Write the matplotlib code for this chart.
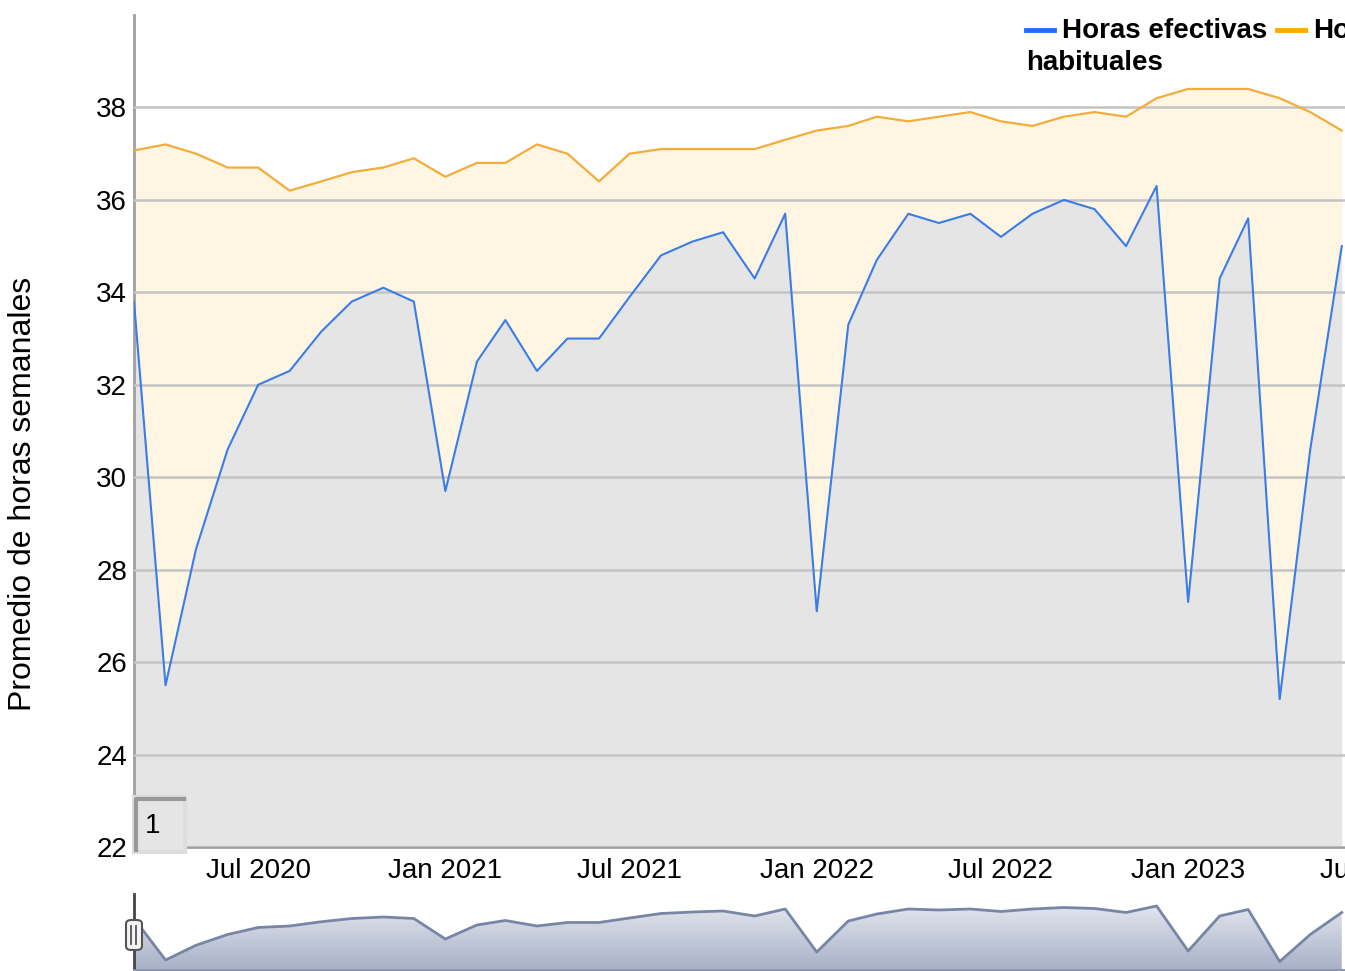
import numpy as np
import pandas as pd
import matplotlib
matplotlib.use('Agg')
import matplotlib.pyplot as plt
import matplotlib.dates as mdates
from matplotlib.patches import Rectangle, FancyBboxPatch
from matplotlib.lines import Line2D

plt.rcParams['font.family'] = ['Liberation Sans', 'DejaVu Sans']

# monthly data, Mar 2020 - Jun 2023
months = pd.date_range('2020-03-01', '2023-06-01', freq='MS')
efectivas = [33.8, 25.5, 28.45, 30.6, 32.0, 32.3, 33.15, 33.8, 34.1, 33.8,
             29.7, 32.5, 33.4, 32.3, 33.0, 33.0, 33.9, 34.8, 35.1, 35.3,
             34.3, 35.7, 27.1, 33.3, 34.7, 35.7, 35.5, 35.7, 35.2, 35.7,
             36.0, 35.8, 35.0, 36.3, 27.3, 34.3, 35.6, 25.2, 30.6, 35.0]
habituales = [37.07, 37.2, 37.0, 36.7, 36.7, 36.2, 36.4, 36.6, 36.7, 36.9,
              36.5, 36.8, 36.8, 37.2, 37.0, 36.4, 37.0, 37.1, 37.1, 37.1,
              37.1, 37.3, 37.5, 37.6, 37.8, 37.7, 37.8, 37.9, 37.7, 37.6,
              37.8, 37.9, 37.8, 38.2, 38.4, 38.4, 38.4, 38.2, 37.9, 37.5]
yticks = [22, 24, 26, 28, 30, 32, 34, 36, 38]

W, H = 1345, 971
fs = 20
fig = plt.figure(figsize=(W / 100, H / 100), dpi=100)

x0 = pd.Timestamp('2020-03-01')
x1 = pd.Timestamp('2023-09-01')
ax_w = (x1 - x0).days * 1.0175

# main chart
ax = fig.add_axes([134 / W, (H - 847) / H, ax_w / W, 832 / H])
ax.set_xlim(x0, x1)
ax.set_ylim(22, 40)
ax.fill_between(months, 22, efectivas, color='#e5e5e5', lw=0, zorder=0.5)
ax.fill_between(months, efectivas, habituales, color='#ffa500', alpha=0.11, lw=0, zorder=2)
ax.plot(months, habituales, color='#f2ad3a', lw=1.6, zorder=3)
ax.plot(months, efectivas, color='#3a7ce8', lw=1.5, zorder=3)

ax.set_yticks(yticks)
ax.yaxis.grid(True, color='#c4c4c4', lw=1.8, zorder=1)
ax.set_axisbelow(False)
ax.xaxis.set_major_locator(mdates.MonthLocator(bymonth=[1, 7]))
ax.xaxis.set_major_formatter(mdates.DateFormatter('%b %Y'))
ax.tick_params(axis='both', length=0, labelsize=fs, pad=5)
ax.tick_params(axis='x', pad=8)
for s in ['top', 'right']:
    ax.spines[s].set_visible(False)
ax.spines['left'].set_color('#a0a0a0')
ax.spines['left'].set_linewidth(2)
ax.spines['bottom'].set_color('#a0a0a0')
ax.spines['bottom'].set_linewidth(2)
ax.set_ylabel('Promedio de horas semanales', fontsize=23)
ax.yaxis.set_label_coords((38 - 134) / ax_w, (847 - 494) / 832)

# legend (cut off by the right edge, as in the original)
fig.add_artist(Line2D([1026 / W, 1054 / W], [1 - 30 / H] * 2, color='#1f6ff0', lw=3.5))
fig.text(1062 / W, 1 - 31 / H, 'Horas efectivas', fontsize=fs, weight='bold', va='center')
fig.add_artist(Line2D([1277 / W, 1305 / W], [1 - 30 / H] * 2, color='#ffaa00', lw=3.5))
fig.text(1313 / W, 1 - 31 / H, 'Horas', fontsize=fs, weight='bold', va='center')
fig.text(1026 / W, 1 - 63 / H, 'habituales', fontsize=fs, weight='bold', va='center')

# "1" button
fig.add_artist(Rectangle((134 / W, 1 - 852 / H), 51 / W, 55 / H, fc='#e5e5e5',
                         ec='#dddddd', lw=3))
fig.add_artist(Line2D([136 / W, 136 / W, 184 / W], [1 - 850 / H, 1 - 799 / H, 1 - 799 / H],
                      color='#999999', lw=3))
fig.text(145 / W, 1 - 826 / H, '1', fontsize=fs, va='center')

# navigator
nav = fig.add_axes([134 / W, 1 / H, ax_w / W, 76 / H])
nav.set_xlim(x0, x1)
nav.set_ylim(23.5, 38.7)
poly = nav.fill_between(months, 23.5, efectivas, color='none', lw=0)
grad = np.linspace(0, 1, 256).reshape(-1, 1)
cmap = matplotlib.colors.LinearSegmentedColormap.from_list('nav', ['#a7b1c7', '#eceef4'])
img = nav.imshow(grad, cmap=cmap, aspect='auto', origin='lower',
                 extent=[mdates.date2num(x0), mdates.date2num(x1), 23.5, 38.7], zorder=1)
img.set_clip_path(poly.get_paths()[0], transform=nav.transData)
nav.plot(months, efectivas, color='#7886a6', lw=2, zorder=2)
nav.set_xticks([])
nav.set_yticks([])
for s in ['top', 'right']:
    nav.spines[s].set_visible(False)
nav.spines['left'].set_color('#444444')
nav.spines['left'].set_linewidth(2)
nav.spines['bottom'].set_color('#8a94aa')
nav.spines['bottom'].set_linewidth(2)

# navigator handle
fig.add_artist(FancyBboxPatch((126 / W, 1 - 950 / H), 16 / W, 30 / H,
                              boxstyle='round,pad=0,rounding_size=0.004',
                              fc='#f4f4f4', ec='#555555', lw=1.5))
for hx in [131, 136]:
    fig.add_artist(Line2D([hx / W, hx / W], [1 - 944 / H, 1 - 926 / H], color='#555555', lw=1.3))

fig.savefig('out.png', dpi=100)
